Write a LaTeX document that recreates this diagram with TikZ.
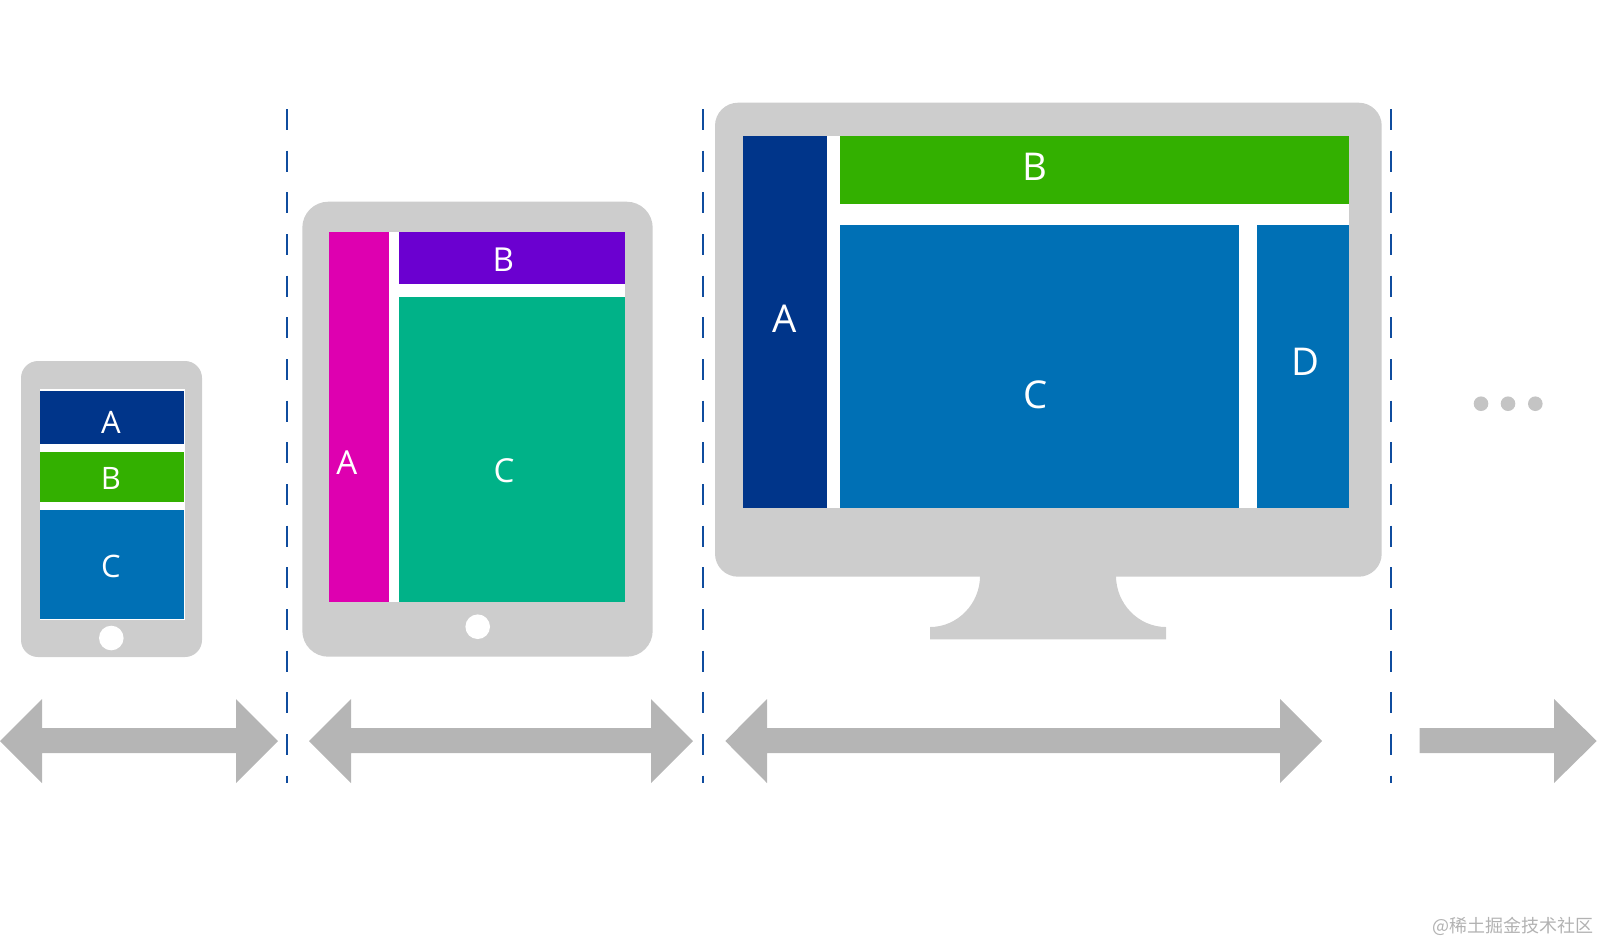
\documentclass[tikz,border=0pt]{standalone}
\usepackage{fontspec}
\setmainfont{Open Sans}
\newfontfamily\cjkmark{Noto Sans CJK SC}
\usepackage{xcolor}
\usepackage{tikz}
\usetikzlibrary{positioning}
\definecolor{devicegrey}{HTML}{CDCDCD}
\definecolor{arrowgrey}{HTML}{B5B5B5}
\definecolor{dotgrey}{HTML}{C4C4C4}
\definecolor{dashblue}{HTML}{0F4C9E}
\definecolor{navypanel}{HTML}{00358A}
\definecolor{greenpanel}{HTML}{33B000}
\definecolor{bluepanel}{HTML}{0070B5}
\definecolor{magentapanel}{HTML}{DE00B0}
\definecolor{purplepanel}{HTML}{6B00D0}
\definecolor{tealpanel}{HTML}{00B288}
\tikzset{
  device/.style={fill=devicegrey},
  widtharrow/.style={fill=arrowgrey},
  breakline/.style={draw=dashblue, line width=0.02cm, dash pattern=on 0.21cm off 0.2067cm},
  phonetext/.style={inner sep=0pt, text=white, font=\fontsize{8.8pt}{10pt}\selectfont},
  tablettext/.style={inner sep=0pt, text=white, font=\fontsize{9.4pt}{11pt}\selectfont},
  desktext/.style={inner sep=0pt, text=white, font=\fontsize{10.9pt}{13pt}\selectfont},
}
\begin{document}
\begin{tikzpicture}[x=1cm,y=-1cm]
\useasboundingbox (0,0) rectangle (16,9.43);
% phone
\fill[device, rounded corners=0.17cm] (0.21,3.61) rectangle (2.02,6.57);
\fill[white] (0.395,3.885) rectangle (1.845,6.20);
\fill[navypanel] (0.40,3.907) rectangle (1.84,4.44);
\fill[greenpanel] (0.395,4.517) rectangle (1.84,5.023);
\fill[bluepanel] (0.40,5.10) rectangle (1.84,6.193);
\fill[white] (1.113,6.38) circle (0.123);
\node[phonetext] (phoneA) at (1.11,4.22) {A};
\node[phonetext] (phoneB) at (1.11,4.785) {B};
\node[phonetext] (phoneC) at (1.11,5.66) {C};
% tablet
\fill[device, rounded corners=0.26cm] (3.023,2.017) rectangle (6.527,6.567);
\fill[white] (3.293,2.317) rectangle (6.25,6.017);
\fill[magentapanel] (3.293,2.317) rectangle (3.893,6.017);
\fill[purplepanel] (3.993,2.317) rectangle (6.25,2.843);
\fill[tealpanel] (3.993,2.967) rectangle (6.25,6.017);
\fill[white] (4.777,6.267) circle (0.123);
\node[tablettext] (tabletA) at (3.467,4.63) {A};
\node[tablettext] (tabletB) at (5.033,2.60) {B};
\node[tablettext] (tabletC) at (5.04,4.705) {C};
% desktop
\fill[device, rounded corners=0.23cm] (7.15,1.027) rectangle (13.817,5.767);
\fill[device] (9.80,5.76) .. controls (9.80,6.036) and (9.576,6.27) .. (9.30,6.27)
  -- (9.30,6.393) -- (11.66,6.393) -- (11.66,6.27)
  .. controls (11.384,6.27) and (11.16,6.036) .. (11.16,5.76) -- cycle;
\fill[white] (7.43,1.36) rectangle (13.49,5.083);
\fill[navypanel] (7.43,1.36) rectangle (8.267,5.083);
\fill[greenpanel] (8.40,1.36) rectangle (13.49,2.04);
\fill[bluepanel] (8.40,2.247) rectangle (12.39,5.083);
\fill[bluepanel] (12.57,2.247) rectangle (13.49,5.083);
\node[desktext] (deskA) at (7.845,3.185) {A};
\node[desktext] (deskB) at (10.35,1.665) {B};
\node[desktext] (deskC) at (10.36,3.95) {C};
\node[desktext] (deskD) at (13.05,3.617) {D};
% breakpoints
\draw[breakline] (2.866,1.09) -- (2.866,7.83);
\draw[breakline] (7.027,1.09) -- (7.027,7.83);
\draw[breakline] (13.907,1.09) -- (13.907,7.83);
% width arrows
\fill[widtharrow] (0,7.41) -- (0.42,6.99) -- (0.42,7.28) -- (2.36,7.28) -- (2.36,6.99) -- (2.78,7.41)
  -- (2.36,7.83) -- (2.36,7.53) -- (0.42,7.53) -- (0.42,7.83) -- cycle;
\fill[widtharrow] (3.09,7.41) -- (3.51,6.99) -- (3.51,7.28) -- (6.51,7.28) -- (6.51,6.99) -- (6.93,7.41)
  -- (6.51,7.83) -- (6.51,7.53) -- (3.51,7.53) -- (3.51,7.83) -- cycle;
\fill[widtharrow] (7.253,7.41) -- (7.67,6.99) -- (7.67,7.28) -- (12.80,7.28) -- (12.80,6.99) -- (13.22,7.41)
  -- (12.80,7.83) -- (12.80,7.53) -- (7.67,7.53) -- (7.67,7.83) -- cycle;
\fill[widtharrow] (14.197,7.28) -- (15.54,7.28) -- (15.54,6.99) -- (15.967,7.41)
  -- (15.54,7.83) -- (15.54,7.53) -- (14.197,7.53) -- cycle;
% more sizes
\foreach \dotx in {14.81,15.08,15.353}
  \fill[dotgrey] (\dotx,4.037) circle (0.073);
\node[inner sep=0pt, anchor=east, text=black!30, font=\cjkmark\fontsize{5.12pt}{6pt}\selectfont] (watermark) at (15.94,9.265) {@稀土掘金技术社区};
\end{tikzpicture}
\end{document}
